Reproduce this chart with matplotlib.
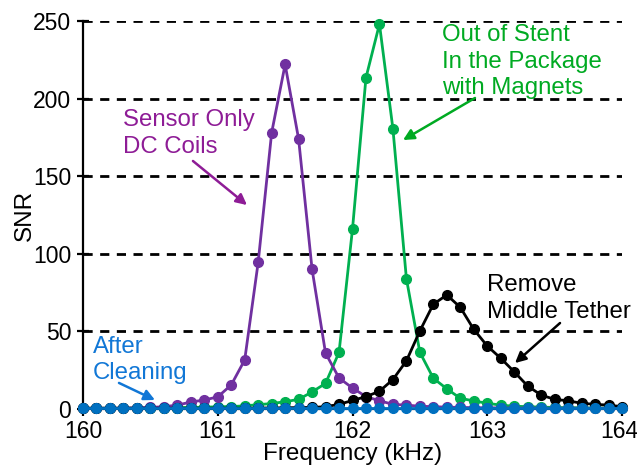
import numpy as np
import matplotlib
matplotlib.use("Agg")
import matplotlib.pyplot as plt
from matplotlib.transforms import ScaledTranslation

plt.rcParams["font.family"] = ["Liberation Sans", "DejaVu Sans"]

# Frequency sweep (kHz)
freq = [160.0, 160.1, 160.2, 160.3, 160.4, 160.5, 160.6, 160.7, 160.8, 160.9,
        161.0, 161.1, 161.2, 161.3, 161.4, 161.5, 161.6, 161.7, 161.8, 161.9,
        162.0, 162.1, 162.2, 162.3, 162.4, 162.5, 162.6, 162.7, 162.8, 162.9,
        163.0, 163.1, 163.2, 163.3, 163.4, 163.5, 163.6, 163.7, 163.8, 163.9,
        164.0]

# SNR for each measurement condition
snr_sensor_dc = [0.5, 0.5, 0.5, 0.6, 0.8, 1.0, 1.5, 2.5, 4.5, 5.8,
                 7.8, 15.5, 31.6, 94.5, 178, 222, 174, 90, 36, 20,
                 13.5, 8, 5.3, 3, 2.5, 1.8, 1.5, 1.2, 1.0, 0.9,
                 0.8, 0.7, 0.6, 0.6, 0.5, 0.5, 0.5, 0.5, 0.5, 0.5,
                 0.5]
snr_stent = [0.5, 0.5, 0.5, 0.5, 0.6, 0.7, 0.8, 0.9, 1.0, 1.2,
             1.4, 1.6, 2.0, 2.8, 3.5, 4.7, 6.2, 11, 16.5, 36.5,
             116, 213.5, 248, 180.5, 84, 36.5, 19.8, 13, 6.9, 5.2,
             3.7, 2.5, 1.8, 1.5, 1.2, 1.0, 0.9, 0.8, 0.7, 0.6,
             0.5]
snr_tether = [0.5, 0.5, 0.5, 0.5, 0.5, 0.5, 0.5, 0.5, 0.5, 0.5,
              0.5, 0.5, 0.5, 0.6, 0.7, 0.8, 0.9, 1.0, 1.5, 3,
              5.5, 8, 11.4, 19, 31, 50.3, 67.5, 73.5, 65.5, 51.3,
              40.6, 32.7, 24, 14.8, 9, 6.2, 5.3, 3.7, 3, 2.5,
              1.5]
snr_cleaned = [0.5, 0.5, 0.5, 0.5, 0.5, 0.5, 0.5, 0.5, 0.5, 0.5,
               0.5, 0.5, 0.5, 0.5, 0.5, 0.5, 0.5, 0.5, 0.5, 0.5,
               0.5, 0.5, 0.5, 0.5, 0.5, 0.5, 0.5, 0.5, 0.5, 0.5,
               0.5, 0.5, 0.5, 0.5, 0.5, 0.5, 0.5, 0.5, 0.5, 0.5,
               0.5]

x_ticks = [160, 161, 162, 163, 164]
y_ticks = [0, 50, 100, 150, 200, 250]

PURPLE = "#7030A0"
PURPLE_TXT = "#8E1C96"
GREEN = "#00B050"
GREEN_TXT = "#00AA22"
BLUE = "#0070C0"
BLUE_TXT = "#1177D6"

fig = plt.figure(figsize=(6.37, 4.70), dpi=100)
ax = fig.add_axes([83 / 637, 1 - 409 / 470, (622 - 83) / 637, (409 - 21) / 470])

# dashed horizontal guides
for yv in y_ticks[1:]:
    ax.axhline(yv, color="black", lw=2.0, dashes=(3.3, 2.7), zorder=1)

style = dict(lw=2.0, marker="o", ms=7, clip_on=False)
ax.plot(freq, snr_stent, color=GREEN, zorder=3, **style)
ax.plot(freq, snr_sensor_dc, color=PURPLE, zorder=4, **style)
ax.plot(freq, snr_tether, color="black", zorder=5, **style)
ax.plot(freq, snr_cleaned, color=BLUE, zorder=6, **style)

ax.set_xlim(160, 164)
ax.set_ylim(0, 250)
ax.set_xticks(x_ticks)
ax.set_yticks(y_ticks)

for s in ["top", "right"]:
    ax.spines[s].set_visible(False)
for s in ["left", "bottom"]:
    ax.spines[s].set_linewidth(1.6)
    ax.spines[s].set_zorder(2)

ax.tick_params(axis="y", direction="inout", length=9, width=1.6, labelsize=16.5, pad=4)
ax.tick_params(axis="x", direction="out", length=5, width=1.6, labelsize=16.5, pad=3)
ax.set_xlabel("Frequency (kHz)", fontsize=17.5, labelpad=0)
ax.set_ylabel("SNR", fontsize=17.5, labelpad=-2)

# keep the last x tick label inside the canvas
last = ax.get_xticklabels()[-1]
last.set_transform(last.get_transform() + ScaledTranslation(-3 / 100, 0, fig.dpi_scale_trans))

fs = 17.3
ls = 1.27
arrow = lambda c: dict(arrowstyle="-|>", color=c, lw=1.8, mutation_scale=16, shrinkA=0, shrinkB=0)

ax.text(160.297, 193.0, "Sensor Only\nDC Coils", color=PURPLE_TXT, fontsize=fs,
        ha="left", va="top", linespacing=ls)
ax.annotate("", xy=(161.217, 131.4), xytext=(160.816, 159.8), arrowprops=arrow(PURPLE_TXT))

ax.text(162.664, 248.0, "Out of Stent\nIn the Package\nwith Magnets", color=GREEN_TXT,
        fontsize=fs, ha="left", va="top", linespacing=ls)
ax.annotate("", xy=(162.375, 173.3), xytext=(162.909, 200.4), arrowprops=arrow(GREEN_TXT))

ax.text(162.998, 87.0, "Remove\nMiddle Tether", color="black", fontsize=fs,
        ha="left", va="top", linespacing=ls)
ax.annotate("", xy=(163.206, 29.6), xytext=(163.54, 55.4), arrowprops=arrow("black"))

ax.text(160.074, 47.2, "After\nCleaning", color=BLUE_TXT, fontsize=fs,
        ha="left", va="top", linespacing=ls)
ax.annotate("", xy=(160.534, 5.8), xytext=(160.267, 16.8), arrowprops=arrow(BLUE_TXT))

fig.savefig("out.png", dpi=100)
